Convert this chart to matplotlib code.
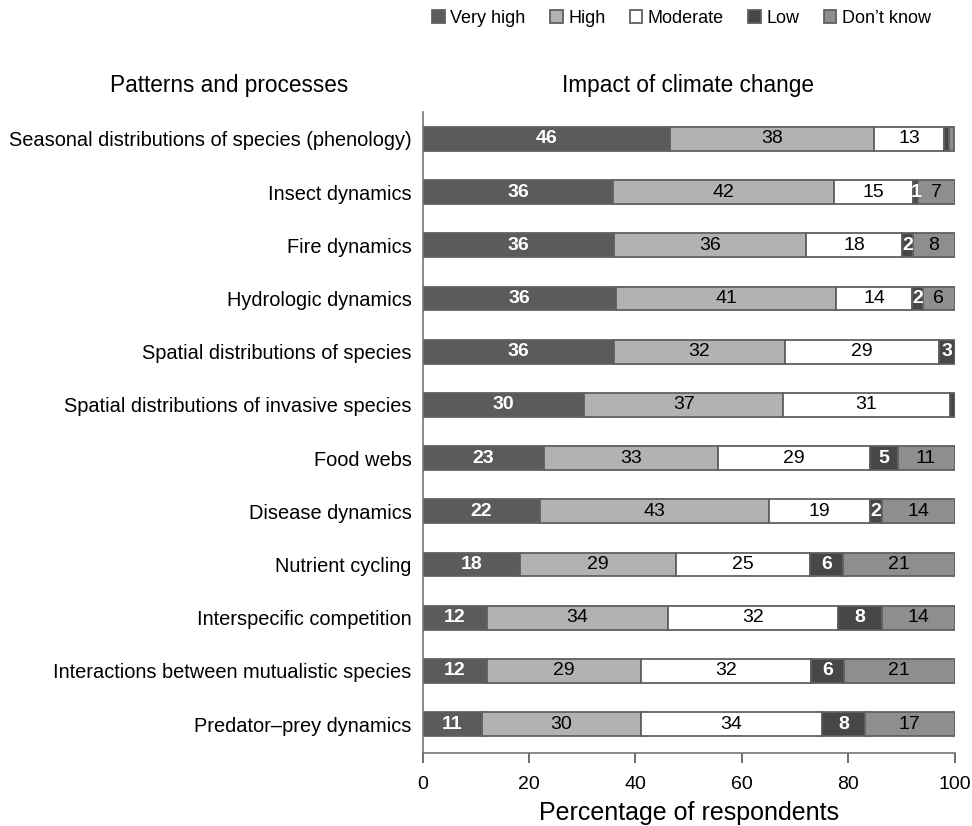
import matplotlib.pyplot as plt
import numpy as np

plt.rcParams['font.family'] = ['Liberation Sans', 'DejaVu Sans']

# rows, top to bottom
processes = [
    "Seasonal distributions of species (phenology)",
    "Insect dynamics",
    "Fire dynamics",
    "Hydrologic dynamics",
    "Spatial distributions of species",
    "Spatial distributions of invasive species",
    "Food webs",
    "Disease dynamics",
    "Nutrient cycling",
    "Interspecific competition",
    "Interactions between mutualistic species",
    "Predator\u2013prey dynamics",
]

categories = ["Very high", "High", "Moderate", "Low", "Don\u2019t know"]

very_high = [46.4, 35.8, 36.0, 36.4, 36.0, 30.4, 22.8, 22.0, 18.2, 12.1, 12.1, 11.1]
high      = [38.4, 41.6, 36.1, 41.4, 32.1, 37.4, 32.7, 43.2, 29.4, 34.0, 29.0, 30.0]
moderate  = [13.3, 14.8, 18.1, 14.2, 28.9, 31.3, 28.6, 18.9, 25.2, 32.0, 31.9, 33.9]
low       = [0.9, 1.0, 2.0, 2.1, 3.0, 0.9, 5.2, 2.2, 6.2, 8.2, 6.2, 8.2]
dont_know = [0.9, 6.8, 7.8, 5.9, 0.0, 0.0, 10.7, 13.7, 21.0, 13.7, 20.8, 16.8]

series = [very_high, high, moderate, low, dont_know]
colors = ["#5b5b5b", "#b2b2b2", "#ffffff", "#474747", "#8e8e8e"]
text_colors = ["white", "black", "black", "white", "black"]
text_weight = ["bold", "normal", "normal", "bold", "normal"]

fig = plt.figure(figsize=(9.72, 8.26), dpi=100)
ax = fig.add_axes([0.435, 0.088, 0.547, 0.776])

y = np.arange(len(processes))
left = np.zeros(len(processes))
for i, (vals, cat) in enumerate(zip(series, categories)):
    vals = np.array(vals)
    ax.barh(y, vals, left=left, height=0.45, color=colors[i],
            edgecolor="#606060", linewidth=1.3, label=cat)
    for yy, l, v in zip(y, left, vals):
        if v >= 1:
            ax.text(l + v / 2, yy, f"{v:.0f}", ha="center", va="center",
                    color=text_colors[i], fontweight=text_weight[i], fontsize=14)
    left += vals

ax.set_xlim(0, 100)
ax.set_ylim(11.55, -0.5)
ax.set_yticks(y)
ax.set_yticklabels(processes, fontsize=14.4)
ax.tick_params(axis="y", length=0, pad=8)
ax.set_xticks([0, 20, 40, 60, 80, 100])
ax.tick_params(axis="x", labelsize=14, length=7, width=1.2, pad=9, color="#555555")
ax.set_xlabel("Percentage of respondents", fontsize=18, labelpad=6)
for s in ["top", "right"]:
    ax.spines[s].set_visible(False)
for s in ["left", "bottom"]:
    ax.spines[s].set_color("#777777")
    ax.spines[s].set_linewidth(1.2)

fig.text(0.236, 0.897, "Patterns and processes", ha="center", va="center", fontsize=16.3)
fig.text(0.708, 0.897, "Impact of climate change", ha="center", va="center", fontsize=16.3)

fig.legend(loc="center left", bbox_to_anchor=(0.428, 0.978), ncol=5, frameon=False,
           fontsize=13, handlelength=0.7, handleheight=0.7, handletextpad=0.3,
           columnspacing=1.35)

fig.savefig("out.png", dpi=100)
